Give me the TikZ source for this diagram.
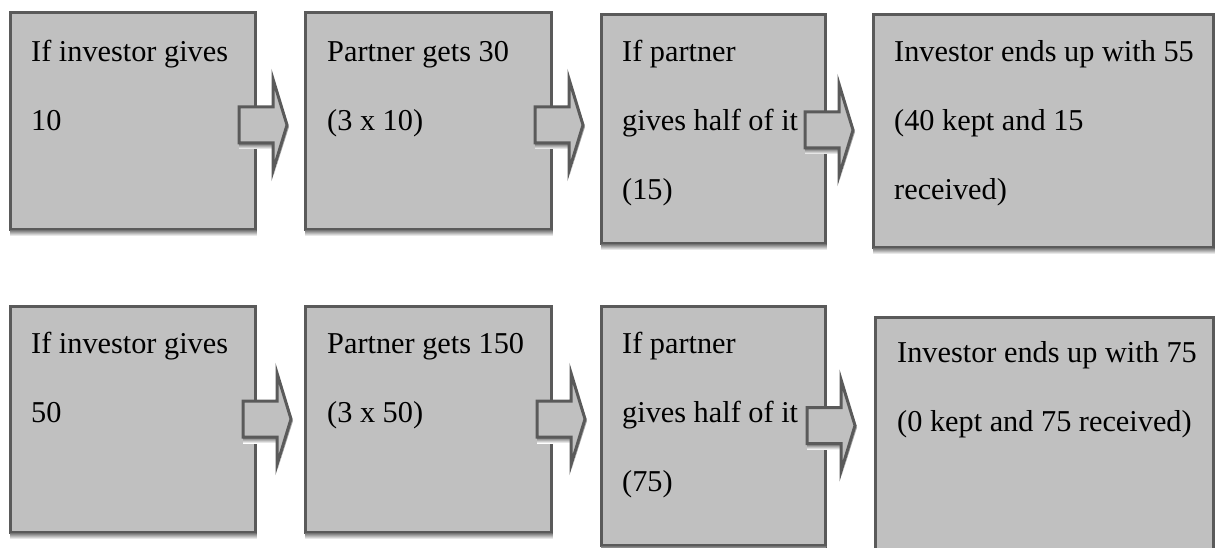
\documentclass[tikz,border=0pt]{standalone}
\usepackage{fontspec}
\setmainfont{Liberation Serif}
\usetikzlibrary{calc}
\definecolor{boxfill}{HTML}{C0C0C0}
\definecolor{boxline}{HTML}{5A5A5A}
\definecolor{shade}{HTML}{D6D6D6}
\tikzset{
  stagebox/.style={draw=boxline, fill=boxfill, line width=3pt, inner sep=0pt,
    outer sep=0pt, anchor=north west},
  caption/.style={anchor=base west, inner sep=0pt, text=black,
    font=\fontsize{30.3}{69}\selectfont},
  pics/flowarrow/.style={code={
    % soft shadow under the shaft and the head
    \fill[shade] (0,19) rectangle (34,24);
    \fill[black!35] (35,-44) -- (50,2) -- (35,49) -- (36,46) -- (48,2) -- cycle;
    % block arrow
    \draw[draw=boxline, fill=boxfill, line width=3pt, line join=miter]
      (0,-18) -- (34,-18) -- (34,-46) -- (48,0) -- (34,46) -- (34,18) -- (0,18) -- cycle;
  }}
}
\newcommand\boxshadow[1]{%
  \fill[shade] ($(#1.south west)+(0,1.5)$) rectangle ($(#1.south east)+(1.5,7)$);}

\begin{document}
\begin{tikzpicture}[x=1pt, y=-1pt]
\useasboundingbox (0,0) rectangle (1222,548);
\clip (0,0) rectangle (1222,548);

% first scenario: investor gives 10
\node[stagebox, minimum width=245, minimum height=216] (b11) at (10,13) {};
\node[stagebox, minimum width=246, minimum height=216] (b12) at (305,13) {};
\node[stagebox, minimum width=224, minimum height=228] (b13) at (601,15) {};
\node[stagebox, minimum width=340, minimum height=232] (b14) at (873,15) {};
\foreach \b in {b11,b12,b13,b14} {\boxshadow{\b}}

\node[caption] (t11) at ($(b11.north west)+(21,49)$)
  {\begin{tabular}[t]{@{}l@{}}If investor gives\\10\end{tabular}};
\node[caption] (t12) at ($(b12.north west)+(22,49)$)
  {\begin{tabular}[t]{@{}l@{}}Partner gets 30\\(3 x 10)\end{tabular}};
\node[caption] (t13) at ($(b13.north west)+(21,47)$)
  {\begin{tabular}[t]{@{}l@{}}If partner\\gives half of it\\(15)\end{tabular}};
\node[caption] (t14) at ($(b14.north west)+(21,47)$)
  {\begin{tabular}[t]{@{}l@{}}Investor ends up with 55\\(40 kept and 15\\received)\end{tabular}};

\pic at ($(b11.east)+(-16,4)$) {flowarrow};
\pic at ($(b12.east)+(-16,4)$) {flowarrow};
\pic at ($(b13.east)+(-20,1)$) {flowarrow};

% second scenario: investor gives 50
\node[stagebox, minimum width=245, minimum height=226] (b21) at (10,306) {};
\node[stagebox, minimum width=246, minimum height=226] (b22) at (305,306) {};
\node[stagebox, minimum width=224, minimum height=239] (b23) at (601,306) {};
\node[stagebox, minimum width=338, minimum height=250] (b24) at (875,317) {};
\foreach \b in {b21,b22,b23} {\boxshadow{\b}}

\node[caption] (t21) at ($(b21.north west)+(21,47)$)
  {\begin{tabular}[t]{@{}l@{}}If investor gives\\50\end{tabular}};
\node[caption] (t22) at ($(b22.north west)+(22,47)$)
  {\begin{tabular}[t]{@{}l@{}}Partner gets 150\\(3 x 50)\end{tabular}};
\node[caption] (t23) at ($(b23.north west)+(21,47)$)
  {\begin{tabular}[t]{@{}l@{}}If partner\\gives half of it\\(75)\end{tabular}};
\node[caption] (t24) at ($(b24.north west)+(22,45)$)
  {\begin{tabular}[t]{@{}l@{}}Investor ends up with 75\\(0 kept and 75 received)\end{tabular}};

\pic at ($(b21.east)+(-12,0)$) {flowarrow};
\pic at ($(b22.east)+(-14,0)$) {flowarrow};
\pic at ($(b23.east)+(-18,0)$) {flowarrow};
\end{tikzpicture}
\end{document}
